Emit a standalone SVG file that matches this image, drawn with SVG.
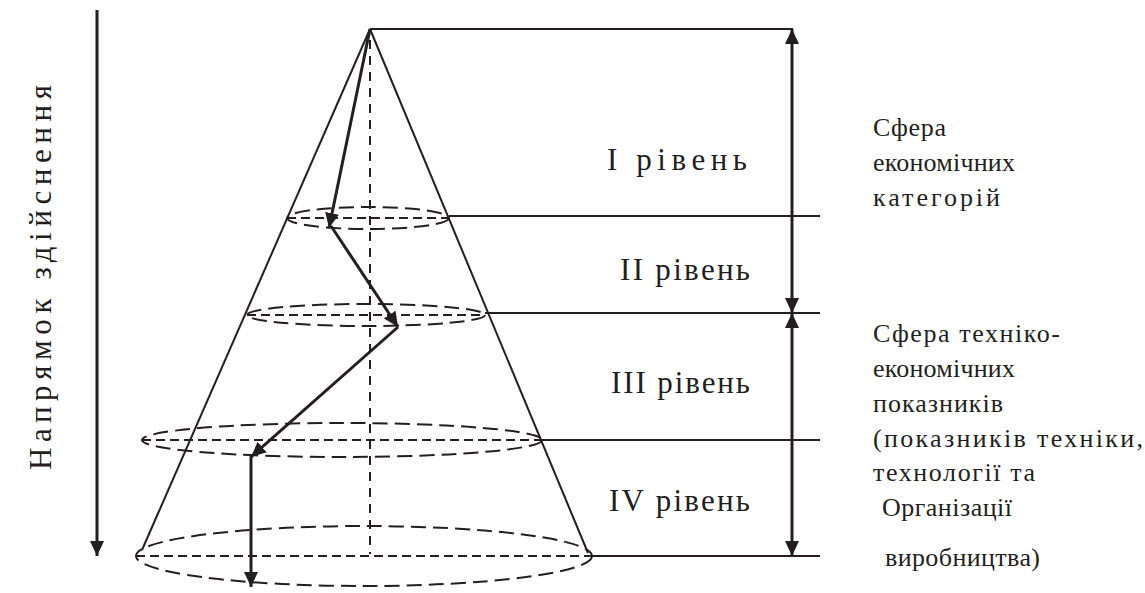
<svg xmlns="http://www.w3.org/2000/svg" width="1145" height="593" viewBox="0 0 1145 593">
<style>
.solid{stroke:#231f20;stroke-width:2;fill:none}
.thick{stroke:#231f20;stroke-width:3;fill:none}
.dash{stroke:#231f20;stroke-width:2;fill:none;stroke-dasharray:15 7}
.hdash{stroke:#231f20;stroke-width:2;fill:none;stroke-dasharray:9 5}
.cdash{stroke:#231f20;stroke-width:2;fill:none;stroke-dasharray:9 7}
text{font-family:"Liberation Serif","Times New Roman",serif;fill:#231f20}
.lvl{font-size:31px}
.side{font-size:26px}
.dir{font-size:31px}
</style>
<defs>
<marker id="ah" markerUnits="userSpaceOnUse" markerWidth="16" markerHeight="14" refX="15" refY="7" orient="auto-start-reverse">
<path d="M0,0 L15,7 L0,14 z" fill="#231f20"/>
</marker>
</defs>
<g id="cone">
<line class="solid" x1="370" y1="29" x2="142" y2="550"/>
<line class="solid" x1="370" y1="29" x2="588" y2="553"/>
<line class="cdash" x1="370" y1="40" x2="370" y2="554"/>
</g>
<g id="level-ellipses">
<ellipse class="dash" cx="368" cy="218" rx="81" ry="11"/>
<line class="hdash" x1="287" y1="218" x2="449" y2="218"/>
<ellipse class="dash" cx="366" cy="315" rx="119" ry="11"/>
<line class="hdash" x1="247" y1="315" x2="485" y2="315"/>
<ellipse class="dash" cx="342" cy="440" rx="200" ry="17"/>
<line class="hdash" x1="142" y1="440" x2="542" y2="440"/>
<ellipse class="dash" cx="364" cy="556" rx="228" ry="30"/>
<line class="hdash" x1="136" y1="556" x2="592" y2="556"/>
</g>
<g id="connectors">
<line class="solid" x1="370" y1="29" x2="793" y2="29"/>
<line class="solid" x1="449" y1="216" x2="820" y2="216"/>
<line class="solid" x1="485" y1="313" x2="820" y2="313"/>
<line class="solid" x1="541" y1="440" x2="820" y2="440"/>
<line class="solid" x1="592" y1="556" x2="820" y2="556"/>
<line class="thick" x1="792" y1="29" x2="792" y2="313" marker-start="url(#ah)" marker-end="url(#ah)"/>
<line class="thick" x1="792" y1="313" x2="792" y2="556" marker-start="url(#ah)" marker-end="url(#ah)"/>
<line class="thick" x1="97" y1="10" x2="97" y2="556" marker-end="url(#ah)"/>
<line class="thick" x1="370" y1="29" x2="329" y2="228" marker-end="url(#ah)"/>
<line class="thick" x1="331" y1="226" x2="398" y2="327" marker-end="url(#ah)"/>
<line class="thick" x1="398" y1="327" x2="251" y2="457" marker-end="url(#ah)"/>
<line class="thick" x1="251" y1="455" x2="251" y2="587" marker-end="url(#ah)"/>
</g>
<g id="direction-label">
<text class="dir" x="0" y="0" transform="translate(51 470) rotate(-90)" textLength="385" lengthAdjust="spacing">Напрямок здійснення</text>
</g>
<g id="level-labels">
<text class="lvl" x="607" y="170" textLength="140" lengthAdjust="spacing">І рівень</text>
<text class="lvl" x="620" y="280" textLength="130" lengthAdjust="spacing">ІІ рівень</text>
<text class="lvl" x="611" y="393" textLength="139" lengthAdjust="spacing">ІІІ рівень</text>
<text class="lvl" x="609" y="511" textLength="141" lengthAdjust="spacing">IV рівень</text>
</g>
<g id="sphere-1">
<text class="side" x="873" y="136" textLength="73" lengthAdjust="spacing">Сфера</text>
<text class="side" x="873" y="171" textLength="142" lengthAdjust="spacing">економічних</text>
<text class="side" x="873" y="206" textLength="127" lengthAdjust="spacing">категорій</text>
</g>
<g id="sphere-2">
<text class="side" x="873" y="342" textLength="187" lengthAdjust="spacing">Сфера техніко-</text>
<text class="side" x="873" y="377" textLength="142" lengthAdjust="spacing">економічних</text>
<text class="side" x="873" y="412" textLength="130" lengthAdjust="spacing">показників</text>
<text class="side" x="873" y="447" textLength="270" lengthAdjust="spacing">(показників техніки,</text>
<text class="side" x="873" y="481" textLength="162" lengthAdjust="spacing">технології та</text>
<text class="side" x="882" y="516" textLength="130" lengthAdjust="spacing">Організації</text>
<text class="side" x="885" y="566" textLength="155" lengthAdjust="spacing">виробництва)</text>
</g>
</svg>
